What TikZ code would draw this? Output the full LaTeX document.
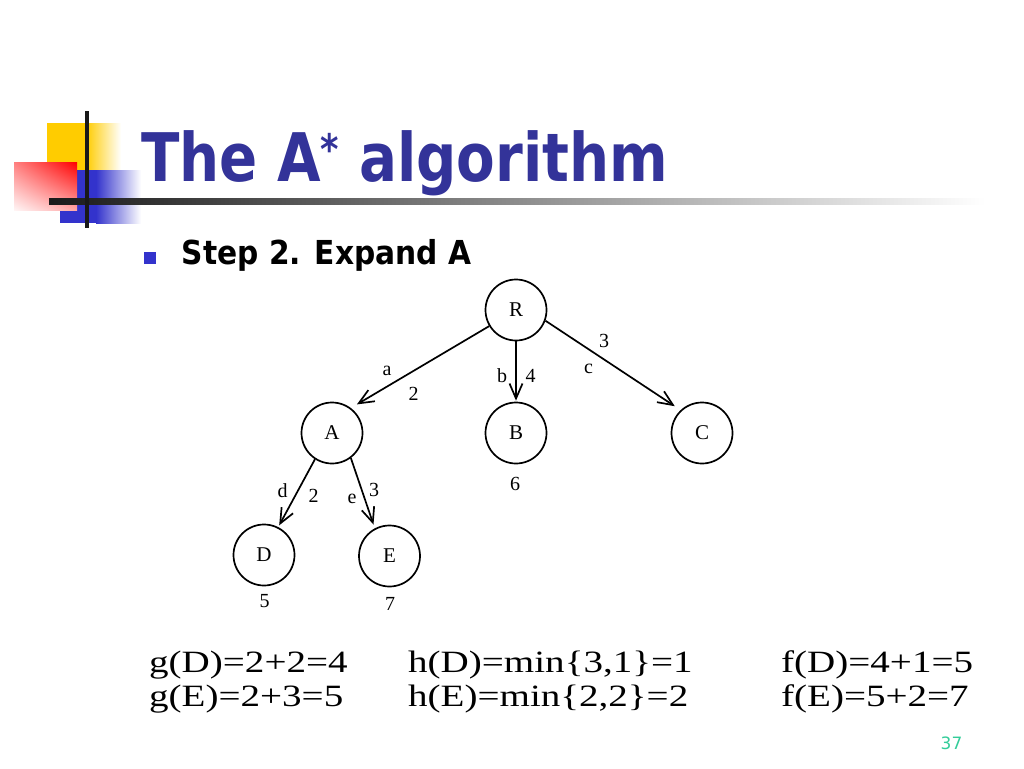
\documentclass[tikz,border=0pt]{standalone}
\usepackage{fontspec}
\usepackage{graphicx}
\setmainfont{Liberation Serif}
\newfontfamily\tah{DejaVu Sans}
\usetikzlibrary{arrows.meta,shadings}
\definecolor{titleblue}{HTML}{333399}
\definecolor{decblue}{HTML}{3333CC}
\definecolor{decyellow}{HTML}{FFCC00}
\definecolor{numgreen}{HTML}{33CC99}
\begin{document}
\begin{tikzpicture}[x=1pt,y=-1pt,
  state/.style={circle, draw, line width=1.7pt, minimum size=61pt, inner sep=0pt, font=\fontsize{21}{21}\selectfont},
  lab/.style={anchor=base, inner sep=0pt, font=\fontsize{20}{20}\selectfont},
  edge/.style={line width=1.7pt, -{Straight Barb[length=15pt,width=13pt]}},
  eq/.style={anchor=base west, inner sep=0pt, font=\fontsize{31}{31}\selectfont}]
\useasboundingbox (0,0) rectangle (1024,768);
% decoration
\fill[decyellow] (47,123) rectangle (86,172);
\shade[left color=decyellow, right color=white] (86,123) rectangle (121,172);
\fill[decblue] (60,170) rectangle (96,223);
\shade[left color=decblue, right color=white] (96,170) rectangle (141,223);
\shade[upper left=red!50, upper right=red, lower left=red!4, lower right=red!35] (14,162) rectangle (77,210);
\shade[left color=black!90, right color=white] (49,198) rectangle (985,204);
\fill[black!90] (85,111) rectangle (89,228);
% title
\node[anchor=base west, inner sep=0pt, text=titleblue, font=\tah\bfseries\fontsize{67}{67}\selectfont] (title) at (141,181.5)
  {\scalebox{0.84}[1]{The A\raisebox{17pt}{\fontsize{42}{42}\selectfont *} algorithm}};
% bullet
\fill[decblue] (144,252) rectangle (156,263.5);
\node[anchor=base west, inner sep=0pt, font=\tah\bfseries\fontsize{33}{33}\selectfont] (step) at (181.5,264.5)
  {\scalebox{0.9}[1]{Step 2. Expand A}};
% tree
\node[state] (R) at (516,310) {R};
\node[state] (A) at (332,433) {A};
\node[state] (B) at (516,433) {B};
\node[state] (C) at (702,433) {C};
\node[state] (D) at (264,555) {D};
\node[state] (E) at (389.5,556) {E};
\draw[edge, shorten >=7pt] (R.211) -- (A.53);
\draw[edge, shorten >=1pt] (R.270) -- (B.90);
\draw[edge, shorten >=7pt] (R.340) -- (C.133);
\draw[edge, shorten >=2pt] (A.237) -- (D.63);
\draw[edge, shorten >=4pt] (A.307) -- (E.118);
\node[lab] (la) at (387,375) {a};
\node[lab] (l2a) at (413.5,400) {2};
\node[lab] (lb) at (502,382.7) {b};
\node[lab] (l4) at (530.5,382.7) {4};
\node[lab] (lc) at (588.5,373) {c};
\node[lab] (l3c) at (604,347) {3};
\node[lab] (l6) at (515,490) {6};
\node[lab] (ld) at (282.5,497) {d};
\node[lab] (l2d) at (313.5,502) {2};
\node[lab] (le) at (352,503) {e};
\node[lab] (l3e) at (374,496.7) {3};
\node[lab] (l5) at (264.5,607) {5};
\node[lab] (l7) at (390,610) {7};
% equations
\node[eq] (gD) at (149,672) {\scalebox{1.26}[1]{g(D)=2+2=4}};
\node[eq] (hD) at (408,672) {\scalebox{1.26}[1]{h(D)=min\{3,1\}=1}};
\node[eq] (fD) at (781,672) {\scalebox{1.26}[1]{f(D)=4+1=5}};
\node[eq] (gE) at (149,706) {\scalebox{1.26}[1]{g(E)=2+3=5}};
\node[eq] (hE) at (408,706) {\scalebox{1.26}[1]{h(E)=min\{2,2\}=2}};
\node[eq] (fE) at (781,706) {\scalebox{1.26}[1]{f(E)=5+2=7}};
% page number
\node[anchor=base, inner sep=0pt, text=numgreen, font=\tah\fontsize{17}{17}\selectfont] (num) at (951.5,749.3) {37};
\end{tikzpicture}
\end{document}
